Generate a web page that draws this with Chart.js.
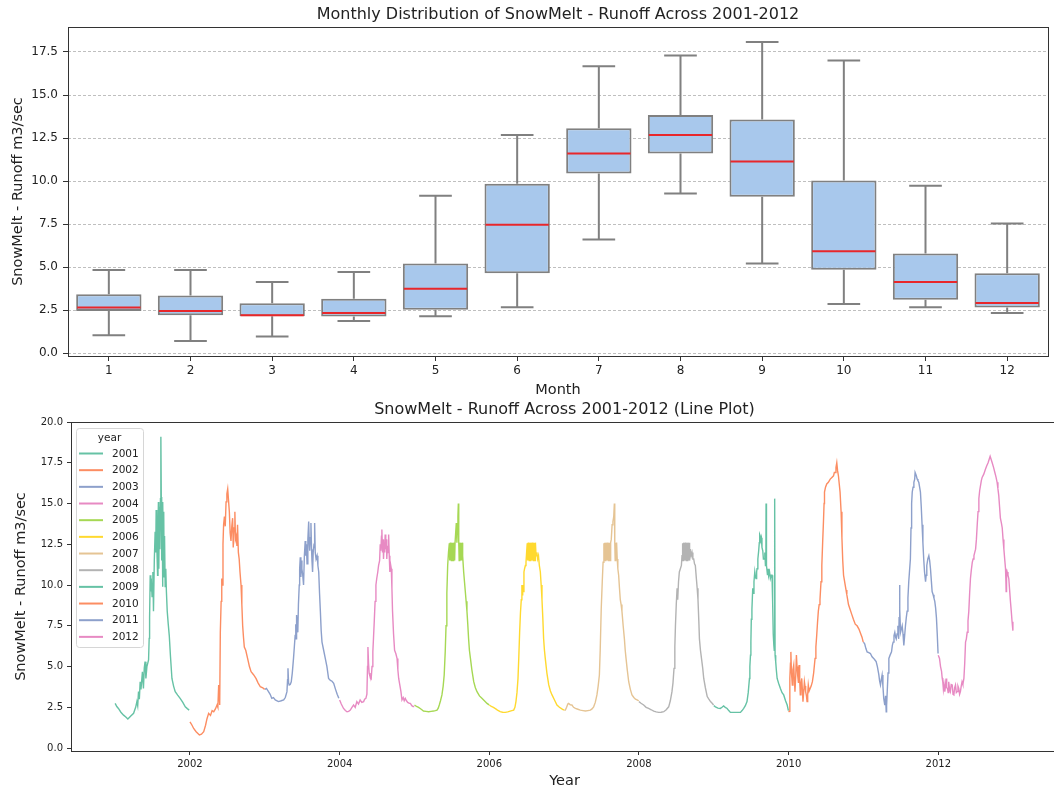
<!DOCTYPE html>
<html>
<head>
<meta charset="utf-8">
<title>SnowMelt - Runoff 2001-2012</title>
<script src="https://cdn.jsdelivr.net/npm/chart.js@4.4.1/dist/chart.umd.min.js"></script>
<style>
	html, body { margin: 0; padding: 0; background: #fff; overflow: hidden; }
	#boxChart { position: absolute; left: 0; top: 0; }
	#lineChart { position: absolute; left: 0; top: 400px; }
</style>
</head>
<body>
<canvas id="boxChart" width="1054" height="400" style="width:1054px;height:400px"></canvas>
<canvas id="lineChart" width="1070" height="391" style="width:1070px;height:391px"></canvas>
<script>
// Monthly box statistics (m3/sec)
const months = ["1", "2", "3", "4", "5", "6", "7", "8", "9", "10", "11", "12"];
const whiskerLow = [1.04, 0.71, 0.97, 1.87, 2.15, 2.67, 6.6, 9.28, 5.22, 2.86, 2.67, 2.34];
const quartile1 = [2.45, 2.2, 2.15, 2.13, 2.53, 4.64, 10.44, 11.6, 9.09, 4.85, 3.11, 2.65];
const medians = [2.65, 2.45, 2.2, 2.34, 3.75, 7.46, 11.6, 12.68, 11.14, 5.93, 4.14, 2.92];
const quartile3 = [3.42, 3.36, 2.9, 3.17, 5.22, 9.84, 13.07, 13.84, 13.57, 10.03, 5.8, 4.64];
const whiskerHigh = [4.83, 4.83, 4.14, 4.72, 9.15, 12.68, 16.67, 17.3, 18.08, 17.0, 9.73, 7.54];

const boxTicks = [0, 2.5, 5, 7.5, 10, 12.5, 15, 17.5];
const runoffTicks = [0, 2.5, 5, 7.5, 10, 12.5, 15, 17.5, 20];
const yearTicks = [2002, 2004, 2006, 2008, 2010, 2012];

// Daily runoff samples per year: [day of year, m3/sec]
const runoff2001 = [[0, 2.74], [8, 2.55], [16, 2.43], [28, 2.2], [41, 2.02], [52, 1.9], [62, 1.78], [75, 1.95], [90, 2.13], [100, 2.5], [106, 2.85], [110, 2.6], [114, 3.46], [118, 3.0], [122, 4.07], [126, 3.6], [133, 4.68], [138, 3.66], [142, 4.9], [146, 5.3], [150, 4.27], [155, 5.0], [163, 5.4], [166, 6.73], [168, 8.0], [171, 10.6], [174, 9.6], [176, 10.4], [180, 9.3], [184, 10.8], [187, 8.4], [191, 11.5], [195, 13.27], [198, 12.0], [200, 14.6], [203, 12.5], [207, 10.6], [209, 13.5], [211, 15.1], [213, 11.0], [216, 14.8], [218, 12.2], [221, 15.3], [223, 19.1], [225, 15.4], [227, 11.5], [229, 14.9], [231, 9.9], [233, 15.1], [235, 12.0], [237, 14.5], [239, 10.5], [241, 13.0], [244, 9.9], [247, 11.0], [250, 9.6], [254, 8.4], [259, 7.6], [264, 6.9], [270, 5.6], [277, 4.27], [285, 3.8], [293, 3.46], [305, 3.25], [317, 3.05], [330, 2.8], [342, 2.53], [352, 2.42], [361, 2.33]];
const runoff2002 = [[0, 1.61], [10, 1.4], [18, 1.2], [30, 1.0], [46, 0.8], [56, 0.85], [67, 1.0], [76, 1.4], [83, 1.8], [91, 2.13], [100, 2.0], [108, 2.3], [116, 2.23], [124, 2.4], [132, 2.64], [136, 2.5], [140, 3.87], [143, 3.2], [145, 2.64], [148, 7.1], [152, 9.0], [155, 10.4], [158, 10.0], [161, 12.5], [164, 13.7], [168, 14.2], [172, 13.6], [176, 15.1], [180, 15.6], [184, 15.9], [188, 15.2], [192, 14.5], [196, 13.2], [200, 12.7], [204, 13.6], [208, 14.1], [211, 12.3], [215, 13.5], [219, 14.5], [222, 12.8], [226, 13.0], [229, 12.4], [232, 13.7], [236, 12.0], [240, 11.6], [244, 10.8], [249, 10.0], [253, 8.8], [257, 7.5], [261, 6.8], [265, 6.2], [272, 6.0], [281, 5.5], [290, 5.0], [298, 4.68], [310, 4.5], [322, 4.27], [332, 4.0], [343, 3.76], [355, 3.7], [364, 3.6]];
const runoff2003 = [[0, 3.6], [8, 3.66], [18, 3.46], [26, 3.3], [34, 3.05], [42, 3.1], [51, 2.95], [60, 2.9], [67, 2.85], [80, 2.9], [92, 2.95], [100, 3.1], [108, 3.46], [111, 4.2], [113, 4.89], [116, 4.0], [119, 3.87], [124, 3.9], [129, 4.07], [134, 4.6], [140, 5.5], [144, 6.2], [148, 6.9], [151, 7.6], [153, 6.7], [155, 8.16], [158, 7.5], [161, 7.1], [164, 8.8], [168, 10.0], [170, 11.0], [173, 11.7], [176, 10.5], [178, 11.5], [181, 11.0], [185, 10.6], [189, 10.0], [193, 11.8], [197, 12.7], [200, 11.8], [203, 12.5], [206, 11.3], [210, 12.8], [214, 13.9], [217, 12.5], [219, 12.1], [222, 12.9], [225, 13.8], [228, 12.2], [230, 11.5], [233, 10.8], [236, 12.0], [240, 12.5], [243, 13.8], [246, 12.0], [250, 11.6], [255, 11.8], [259, 11.2], [263, 10.8], [267, 9.5], [271, 8.4], [275, 7.2], [279, 6.5], [287, 6.0], [295, 5.5], [303, 5.0], [311, 4.27], [320, 4.15], [328, 4.1], [336, 3.97], [345, 3.6], [353, 3.3], [361, 3.05]];
const runoff2004 = [[0, 2.95], [8, 2.7], [19, 2.43], [28, 2.3], [36, 2.23], [44, 2.25], [52, 2.33], [60, 2.5], [68, 2.64], [76, 2.5], [84, 2.85], [92, 2.7], [100, 2.95], [108, 2.8], [117, 2.85], [122, 3.0], [128, 3.05], [133, 3.3], [136, 5.0], [138, 6.2], [141, 5.2], [144, 4.6], [148, 4.4], [154, 4.27], [158, 5.0], [162, 5.9], [165, 6.7], [169, 7.8], [173, 9.0], [177, 10.0], [181, 10.4], [186, 10.8], [190, 11.2], [195, 11.5], [198, 12.5], [201, 12.1], [204, 13.0], [206, 13.4], [209, 12.0], [212, 12.8], [214, 11.6], [217, 12.6], [220, 12.0], [222, 13.1], [225, 12.2], [228, 12.8], [230, 11.6], [233, 12.4], [236, 12.0], [239, 13.1], [242, 11.8], [245, 10.8], [248, 11.3], [252, 11.0], [255, 9.8], [258, 8.4], [263, 7.0], [268, 6.0], [274, 5.8], [280, 5.5], [284, 4.8], [288, 4.27], [293, 3.9], [299, 3.46], [304, 2.95], [310, 3.1], [315, 2.9], [320, 3.05], [326, 2.9], [332, 2.8], [340, 2.74], [345, 2.74], [352, 2.6], [358, 2.55], [364, 2.55]];
const runoff2005 = [[0, 2.64], [10, 2.55], [20, 2.5], [28, 2.43], [36, 2.35], [44, 2.27], [56, 2.25], [69, 2.23], [81, 2.25], [93, 2.27], [102, 2.3], [110, 2.33], [116, 2.45], [121, 2.64], [127, 2.9], [134, 3.26], [140, 3.8], [145, 4.48], [150, 5.9], [154, 7.5], [158, 9.5], [162, 11.2], [166, 12.0], [170, 12.56], [172, 11.5], [174, 12.6], [176, 11.5], [178, 12.6], [180, 11.5], [182, 12.6], [184, 11.5], [186, 12.6], [188, 11.5], [190, 12.6], [192, 11.5], [194, 12.6], [196, 11.5], [198, 12.6], [201, 12.6], [204, 13.8], [207, 12.6], [210, 13.5], [212, 14.2], [214, 15.0], [216, 12.6], [218, 11.5], [220, 12.6], [222, 11.5], [224, 12.6], [226, 11.5], [228, 12.6], [230, 11.5], [232, 12.6], [235, 11.8], [240, 10.8], [244, 10.2], [248, 9.6], [252, 9.0], [256, 8.4], [260, 7.6], [264, 6.7], [268, 6.0], [273, 5.5], [280, 4.8], [289, 4.07], [297, 3.7], [305, 3.46], [317, 3.2], [329, 3.05], [341, 2.9], [354, 2.74], [364, 2.65]];
const runoff2006 = [[0, 2.64], [10, 2.55], [20, 2.5], [28, 2.43], [40, 2.33], [53, 2.23], [65, 2.2], [78, 2.19], [90, 2.22], [102, 2.27], [110, 2.3], [119, 2.33], [125, 2.5], [130, 2.85], [135, 3.4], [140, 4.27], [144, 5.6], [148, 7.1], [152, 8.3], [156, 9.1], [159, 10.0], [161, 9.4], [163, 10.0], [166, 9.6], [169, 10.8], [172, 11.0], [176, 11.2], [179, 11.4], [182, 12.0], [185, 12.56], [187, 11.5], [189, 12.6], [191, 11.5], [193, 12.6], [195, 11.5], [197, 12.6], [199, 11.5], [201, 12.6], [203, 11.5], [205, 12.6], [207, 11.5], [209, 12.6], [211, 11.5], [213, 12.6], [215, 11.5], [217, 12.6], [219, 11.5], [221, 12.6], [223, 11.5], [225, 12.6], [228, 11.8], [232, 12.0], [236, 11.6], [240, 11.8], [244, 11.2], [249, 10.8], [253, 10.0], [257, 9.1], [261, 8.0], [265, 6.7], [269, 6.0], [273, 5.5], [281, 4.6], [290, 3.87], [298, 3.5], [306, 3.26], [318, 2.95], [330, 2.64], [342, 2.5], [354, 2.4], [364, 2.33]];
const runoff2007 = [[0, 2.33], [6, 2.33], [12, 2.5], [18, 2.7], [22, 2.74], [30, 2.65], [38, 2.64], [46, 2.5], [55, 2.43], [67, 2.38], [79, 2.33], [92, 2.3], [104, 2.27], [116, 2.3], [128, 2.33], [136, 2.4], [144, 2.53], [152, 2.8], [160, 3.26], [166, 3.8], [172, 4.48], [176, 6.0], [181, 8.55], [186, 10.2], [190, 11.4], [194, 12.56], [196, 11.5], [198, 12.6], [200, 11.5], [202, 12.6], [204, 11.5], [206, 12.6], [208, 11.5], [210, 12.6], [212, 11.5], [214, 12.6], [216, 11.5], [218, 12.6], [220, 11.5], [222, 12.6], [224, 11.5], [227, 12.6], [230, 12.8], [234, 13.7], [238, 13.9], [242, 14.2], [245, 15.0], [247, 12.6], [249, 11.5], [251, 12.6], [253, 11.5], [256, 12.6], [259, 11.6], [262, 11.0], [266, 10.6], [270, 9.8], [274, 9.1], [278, 8.8], [282, 8.4], [288, 7.5], [294, 6.7], [298, 6.0], [302, 5.5], [308, 4.8], [315, 4.07], [323, 3.6], [331, 3.26], [340, 3.1], [348, 3.0], [356, 2.95], [364, 2.9]];
const runoff2008 = [[0, 2.85], [10, 2.75], [23, 2.64], [35, 2.5], [47, 2.43], [60, 2.35], [72, 2.27], [84, 2.22], [96, 2.19], [108, 2.2], [121, 2.23], [133, 2.35], [145, 2.53], [153, 2.9], [161, 3.46], [166, 4.0], [171, 4.89], [175, 6.2], [178, 7.5], [182, 8.8], [186, 9.8], [189, 9.1], [193, 10.2], [197, 10.8], [202, 11.0], [207, 11.2], [210, 11.8], [213, 12.56], [215, 11.5], [217, 12.6], [219, 11.5], [221, 12.6], [223, 11.5], [225, 12.6], [227, 11.5], [229, 12.6], [231, 11.5], [233, 12.6], [235, 11.5], [237, 12.6], [239, 11.5], [241, 12.6], [243, 11.5], [245, 12.6], [247, 11.5], [251, 12.2], [255, 11.8], [259, 12.0], [263, 11.6], [267, 11.6], [271, 11.3], [275, 11.2], [280, 10.4], [284, 9.8], [288, 9.1], [292, 7.8], [295, 6.7], [300, 6.0], [305, 5.5], [311, 4.9], [316, 4.27], [324, 3.7], [333, 3.16], [341, 3.0], [349, 2.85], [357, 2.75], [364, 2.64]];
const runoff2009 = [[0, 2.6], [8, 2.53], [20, 2.45], [32, 2.43], [40, 2.5], [48, 2.58], [56, 2.5], [65, 2.43], [73, 2.3], [81, 2.19], [93, 2.19], [105, 2.19], [118, 2.19], [130, 2.19], [138, 2.3], [146, 2.43], [154, 2.6], [162, 2.85], [168, 3.4], [174, 4.27], [176, 5.0], [179, 5.7], [181, 6.5], [183, 7.9], [186, 8.5], [190, 9.8], [193, 9.5], [196, 10.2], [200, 10.8], [203, 10.5], [206, 10.4], [209, 10.8], [211, 11.0], [215, 11.6], [219, 12.1], [222, 12.6], [224, 13.1], [227, 13.0], [230, 12.8], [232, 12.9], [235, 12.3], [239, 12.1], [242, 11.6], [245, 11.6], [249, 12.0], [252, 11.2], [254, 11.4], [255, 15.0], [256, 11.3], [258, 11.2], [262, 10.6], [265, 11.0], [268, 10.6], [272, 10.8], [276, 10.4], [280, 10.6], [284, 10.6], [287, 9.0], [290, 7.0], [293, 6.3], [295, 6.0], [297, 15.3], [299, 5.7], [302, 5.3], [305, 4.8], [309, 4.27], [317, 3.95], [325, 3.66], [333, 3.4], [341, 3.26], [350, 2.9], [358, 2.64], [364, 2.3]];
const runoff2010 = [[0, 2.2], [3, 2.25], [6, 4.27], [9, 5.2], [11, 5.9], [14, 4.6], [18, 3.87], [21, 4.8], [25, 5.1], [28, 4.2], [31, 3.46], [35, 4.5], [38, 5.7], [41, 5.0], [44, 4.48], [48, 4.0], [51, 5.1], [54, 4.2], [57, 3.26], [60, 3.9], [64, 4.27], [67, 3.6], [70, 2.85], [74, 3.5], [77, 4.07], [80, 3.8], [83, 3.46], [87, 3.2], [90, 2.85], [93, 3.3], [96, 3.87], [100, 3.5], [105, 3.66], [110, 3.8], [116, 4.07], [122, 4.6], [129, 5.5], [133, 6.2], [137, 6.9], [141, 7.7], [145, 8.4], [149, 8.8], [153, 9.1], [158, 10.2], [162, 11.2], [166, 12.6], [170, 13.9], [173, 15.0], [175, 15.7], [180, 16.0], [186, 16.2], [194, 16.3], [203, 16.5], [211, 16.6], [219, 16.7], [223, 16.9], [227, 16.9], [231, 17.2], [235, 17.5], [239, 17.0], [243, 16.7], [247, 16.2], [251, 15.7], [256, 14.5], [260, 12.9], [264, 11.5], [268, 10.6], [272, 10.3], [276, 10.0], [280, 9.7], [284, 9.4], [288, 9.1], [292, 8.8], [300, 8.5], [308, 8.2], [316, 7.9], [325, 7.6], [334, 7.5], [343, 7.3], [352, 7.0], [358, 6.8], [364, 6.5]];
const runoff2011 = [[0, 6.5], [6, 6.4], [12, 6.1], [18, 5.9], [26, 5.85], [34, 5.8], [42, 5.6], [50, 5.5], [56, 5.4], [62, 5.3], [68, 5.0], [75, 4.5], [79, 4.1], [83, 3.87], [87, 4.2], [91, 4.48], [95, 3.8], [99, 3.05], [102, 2.8], [104, 2.64], [108, 3.2], [111, 2.23], [113, 2.6], [116, 3.46], [120, 4.6], [124, 5.5], [130, 5.7], [137, 5.9], [141, 6.3], [145, 6.5], [149, 6.9], [153, 7.1], [157, 6.8], [160, 6.7], [164, 7.0], [168, 7.5], [170, 7.0], [172, 6.7], [174, 8.0], [176, 10.0], [178, 8.5], [181, 7.1], [185, 7.3], [189, 7.5], [193, 7.0], [197, 6.3], [201, 6.9], [205, 7.5], [209, 8.0], [213, 8.4], [217, 9.2], [221, 10.2], [225, 10.9], [229, 11.6], [232, 13.5], [235, 15.0], [238, 15.7], [242, 16.0], [246, 16.3], [250, 16.5], [252, 16.9], [254, 16.9], [258, 16.7], [262, 16.5], [266, 16.4], [270, 16.3], [274, 16.0], [278, 15.7], [282, 14.8], [286, 13.7], [290, 12.6], [294, 11.6], [298, 10.8], [303, 10.2], [306, 10.6], [309, 11.2], [314, 11.6], [319, 11.8], [323, 11.5], [327, 11.0], [331, 10.3], [335, 9.6], [340, 9.4], [344, 9.2], [348, 9.0], [352, 8.6], [356, 8.0], [360, 7.0], [364, 5.8]];
const runoff2012 = [[0, 5.7], [6, 5.5], [11, 5.0], [16, 4.7], [19, 4.3], [22, 4.07], [25, 3.6], [28, 3.9], [32, 3.46], [35, 3.8], [38, 4.27], [41, 3.7], [45, 3.66], [48, 3.4], [51, 4.07], [55, 3.6], [59, 3.46], [63, 3.9], [68, 3.87], [72, 3.3], [76, 3.26], [80, 3.7], [84, 3.87], [88, 3.4], [92, 3.46], [96, 3.8], [100, 3.66], [104, 3.3], [108, 3.46], [112, 3.8], [116, 4.07], [120, 3.9], [125, 4.27], [129, 5.2], [133, 6.5], [137, 6.7], [141, 7.1], [145, 7.8], [149, 8.4], [153, 9.5], [157, 10.4], [161, 10.9], [166, 11.4], [170, 11.6], [174, 11.8], [178, 12.0], [182, 12.2], [186, 12.8], [190, 13.7], [194, 14.5], [198, 15.3], [202, 15.8], [206, 16.1], [210, 16.4], [214, 16.6], [222, 16.8], [230, 17.1], [236, 17.3], [243, 17.5], [248, 17.7], [253, 17.9], [258, 17.7], [263, 17.5], [270, 17.2], [276, 16.9], [282, 16.6], [287, 16.3], [291, 15.9], [295, 15.5], [299, 14.8], [303, 14.1], [308, 13.8], [312, 13.5], [316, 12.8], [320, 12.2], [324, 11.6], [328, 11.0], [330, 10.2], [331, 9.6], [333, 10.5], [336, 10.8], [340, 10.6], [344, 10.4], [348, 9.7], [352, 9.0], [356, 8.4], [360, 7.75], [364, 7.2]];

const years = [2001, 2002, 2003, 2004, 2005, 2006, 2007, 2008, 2009, 2010, 2011, 2012];
const runoffByYear = [runoff2001, runoff2002, runoff2003, runoff2004, runoff2005, runoff2006,
	runoff2007, runoff2008, runoff2009, runoff2010, runoff2011, runoff2012];
// Set2 palette, cycling after eight years
const yearColors = ["#66c2a5", "#fc8d62", "#8da0cb", "#e78ac3", "#a6d854", "#ffd92f",
	"#e5c494", "#b3b3b3", "#66c2a5", "#fc8d62", "#8da0cb", "#e78ac3"];

const FONT = "'DejaVu Sans', 'Liberation Sans', sans-serif";
const TEXT = "#222222";

// Full box around the plot area
const framePlugin = {
	id: "frame",
	afterDatasetsDraw(chart) {
		const {ctx, chartArea: a} = chart;
		ctx.save();
		ctx.strokeStyle = "#333333";
		ctx.lineWidth = 1;
		ctx.strokeRect(Math.round(a.left) + 0.5, Math.round(a.top) + 0.5,
			Math.round(a.right - a.left), Math.round(a.bottom - a.top));
		ctx.restore();
	},
};

// Whiskers, caps and medians on top of the floating bars
const whiskerPlugin = {
	id: "whiskers",
	afterDatasetsDraw(chart) {
		const {ctx, scales: {x, y}} = chart;
		const step = x.width / months.length;
		ctx.save();
		months.forEach((m, i) => {
			const cx = x.getPixelForValue(i);
			ctx.strokeStyle = "#808080";
			ctx.lineWidth = 2;
			ctx.beginPath();
			ctx.moveTo(cx, y.getPixelForValue(quartile3[i]));
			ctx.lineTo(cx, y.getPixelForValue(whiskerHigh[i]));
			ctx.moveTo(cx, y.getPixelForValue(quartile1[i]));
			ctx.lineTo(cx, y.getPixelForValue(whiskerLow[i]));
			for (const v of [whiskerHigh[i], whiskerLow[i]]) {
				const py = y.getPixelForValue(v);
				ctx.moveTo(cx - step * 0.2, py);
				ctx.lineTo(cx + step * 0.2, py);
			}
			ctx.stroke();

			const my = y.getPixelForValue(medians[i]);
			ctx.strokeStyle = "#e8272b";
			ctx.lineWidth = 2;
			ctx.beginPath();
			ctx.moveTo(cx - step * 0.4 + 1, my);
			ctx.lineTo(cx + step * 0.4 - 1, my);
			ctx.stroke();
		});
		ctx.restore();
	},
};

// Legend box in the upper left corner of the line plot
const yearLegend = {
	id: "yearLegend",
	afterDraw(chart) {
		const {ctx, chartArea: a} = chart;
		const left = a.left + 5;
		const top = a.top + 6;
		const w = 67;
		const h = 219;
		ctx.save();
		ctx.beginPath();
		ctx.roundRect(left + 0.5, top + 0.5, w, h, 3);
		ctx.fillStyle = "rgba(255,255,255,0.8)";
		ctx.fill();
		ctx.strokeStyle = "#d6d6d6";
		ctx.lineWidth = 1;
		ctx.stroke();

		ctx.fillStyle = TEXT;
		ctx.textBaseline = "middle";
		ctx.font = `10.5px ${FONT}`;
		ctx.textAlign = "center";
		ctx.fillText("year", left + w / 2, top + 10);
		ctx.textAlign = "left";
		chart.data.datasets.forEach((ds, i) => {
			const yy = top + 25.5 + i * 16.67;
			ctx.strokeStyle = ds.borderColor;
			ctx.lineWidth = 2;
			ctx.beginPath();
			ctx.moveTo(left + 3, yy);
			ctx.lineTo(left + 27, yy);
			ctx.stroke();
			ctx.fillText(ds.label, left + 36, yy + 0.5);
		});
		ctx.restore();
	},
};

new Chart(document.querySelector("#boxChart"), {
	type: "bar",
	data: {
		labels: months,
		datasets: [{
			label: "SnowMelt - Runoff",
			data: months.map((m, i) => [quartile1[i], quartile3[i]]),
			backgroundColor: "#a8c8ec",
			borderColor: "#808080",
			borderWidth: 2,
			borderSkipped: false,
			barPercentage: 0.8,
			categoryPercentage: 1,
		}],
	},
	options: {
		responsive: false,
		animation: false,
		layout: {padding: {left: 0, right: 6, top: 0, bottom: 0}},
		plugins: {
			legend: {display: false},
			tooltip: {enabled: false},
			title: {
				display: true,
				fullSize: false,
				text: "Monthly Distribution of SnowMelt - Runoff Across 2001-2012",
				font: {family: FONT, size: 16, weight: "normal"},
				color: TEXT,
				padding: {top: 5.4, bottom: 2.4},
			},
		},
		scales: {
			x: {
				grid: {offset: false, drawOnChartArea: false, tickLength: 5, tickColor: "#333", tickWidth: 1},
				border: {display: false},
				ticks: {font: {family: FONT, size: 12}, color: TEXT, padding: 3, maxRotation: 0},
				title: {display: true, text: "Month", font: {family: FONT, size: 14.5}, color: TEXT, padding: {top: 0, bottom: 1}},
				afterFit(scale) {
					scale.height = 44;
				},
			},
			y: {
				min: -0.16,
				max: 18.95,
				afterBuildTicks(scale) {
					scale.ticks = boxTicks.map(v => ({value: v}));
				},
				grid: {color: "rgba(170,170,170,0.75)", lineWidth: 1, tickColor: "#333", tickLength: 5},
				border: {display: false, dash: [3, 2]},
				ticks: {font: {family: FONT, size: 12}, color: TEXT, padding: 5, callback: v => v.toFixed(1)},
				title: {display: true, text: "SnowMelt - Runoff m3/sec", font: {family: FONT, size: 14.5}, color: TEXT, padding: {top: 10, bottom: 0}},
				afterFit(scale) {
					scale.width = 68;
				},
			},
		},
	},
	plugins: [whiskerPlugin, framePlugin],
});

new Chart(document.querySelector("#lineChart"), {
	type: "line",
	data: {
		datasets: years.map((yr, i) => ({
			label: String(yr),
			data: runoffByYear[i].map(([day, v]) => ({x: yr + day / 365, y: v})),
			borderColor: yearColors[i],
			borderWidth: 1.4,
			pointRadius: 0,
			tension: 0,
			fill: false,
		})),
	},
	options: {
		responsive: false,
		animation: false,
		layout: {padding: {left: 0, right: 12, top: 0, bottom: 0}},
		plugins: {
			legend: {display: false},
			tooltip: {enabled: false},
			title: {
				display: true,
				fullSize: false,
				text: "SnowMelt - Runoff Across 2001-2012 (Line Plot)",
				font: {family: FONT, size: 16, weight: "normal"},
				color: TEXT,
				padding: {top: 0.4, bottom: 2.4},
			},
		},
		scales: {
			x: {
				type: "linear",
				min: 2000.41,
				max: 2013.6,
				afterBuildTicks(scale) {
					scale.ticks = yearTicks.map(v => ({value: v}));
				},
				grid: {drawOnChartArea: false, tickLength: 4, tickColor: "#333"},
				border: {display: false},
				ticks: {font: {family: FONT, size: 10}, color: TEXT, padding: 3, maxRotation: 0, callback: v => String(v)},
				title: {display: true, text: "Year", font: {family: FONT, size: 14.5}, color: TEXT, padding: {top: 0, bottom: 1.3}},
				afterFit(scale) {
					scale.height = 40;
				},
			},
			y: {
				min: -0.18,
				max: 20,
				afterBuildTicks(scale) {
					scale.ticks = runoffTicks.map(v => ({value: v}));
				},
				grid: {drawOnChartArea: false, tickLength: 4, tickColor: "#333"},
				border: {display: false},
				ticks: {font: {family: FONT, size: 10}, color: TEXT, padding: 4, callback: v => v.toFixed(1)},
				title: {display: true, text: "SnowMelt - Runoff m3/sec", font: {family: FONT, size: 14.5}, color: TEXT, padding: {top: 13, bottom: 0}},
				afterFit(scale) {
					scale.width = 71;
				},
			},
		},
	},
	plugins: [framePlugin, yearLegend],
});
</script>
</body>
</html>
